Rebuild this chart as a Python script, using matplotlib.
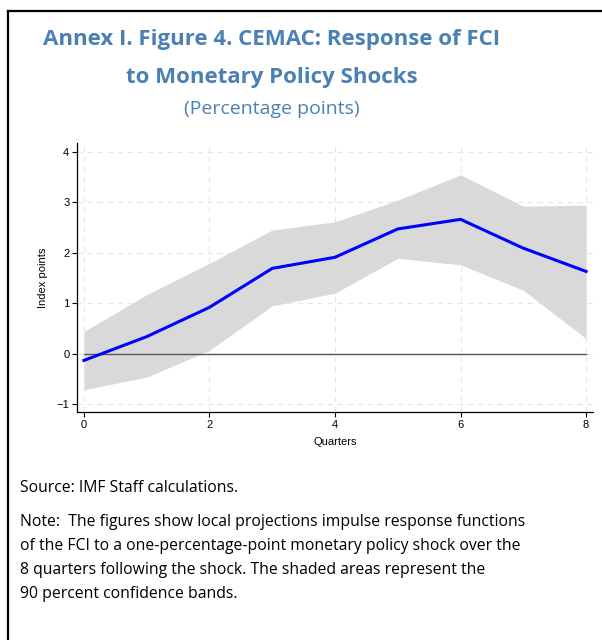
import numpy as np
import matplotlib
matplotlib.use("Agg")
import matplotlib.pyplot as plt
from matplotlib.lines import Line2D

# Respuesta del FCI a choques de politica monetaria
quarters = [0, 1, 2, 3, 4, 5, 6, 7, 8]
irf = [-0.13, 0.34, 0.92, 1.69, 1.91, 2.47, 2.66, 2.09, 1.63]
upper = [0.44, 1.17, 1.79, 2.45, 2.61, 3.04, 3.54, 2.92, 2.94]
lower = [-0.71, -0.46, 0.07, 0.95, 1.20, 1.89, 1.76, 1.26, 0.30]

x_ticks = [0, 2, 4, 6, 8]
y_ticks = [-1, 0, 1, 2, 3, 4]

title_color = "#4a80b3"
txt_font = ["Open Sans", "DejaVu Sans"]

fig = plt.figure(figsize=(6.02, 6.40), dpi=100)

# Marco superior e izquierdo
fig.add_artist(Line2D([8 / 602, 1], [1 - 10.5 / 640, 1 - 10.5 / 640],
                      color="black", lw=1.6, transform=fig.transFigure))
fig.add_artist(Line2D([8 / 602, 8 / 602], [0, 1 - 10.5 / 640],
                      color="black", lw=1.6, transform=fig.transFigure))

cx = 272 / 602
fig.text(cx, 1 - 39 / 640, "Annex I. Figure 4. CEMAC: Response of FCI",
         ha="center", va="center", fontsize=16, fontweight="bold",
         color=title_color, family=txt_font)
fig.text(cx, 1 - 78 / 640, "to Monetary Policy Shocks",
         ha="center", va="center", fontsize=16, fontweight="bold",
         color=title_color, family=txt_font)
fig.text(cx, 1 - 109 / 640, "(Percentage points)",
         ha="center", va="center", fontsize=14, color=title_color,
         family=txt_font)

ax = fig.add_axes([77 / 602, 1 - 412 / 640, (593 - 77) / 602, (412 - 143) / 640])

ax.fill_between(quarters, lower, upper, color="#d9d9d9", lw=0, zorder=2)
ax.plot([quarters[0], quarters[-1]], [0, 0], color="#555555", lw=1.0, zorder=3)
ax.plot(quarters, irf, color="#0000ff", lw=2.2, zorder=4)

ax.set_xlim(-0.11, 8.11)
ax.set_ylim(-1.15, 4.17)
ax.set_xticks(x_ticks)
ax.set_yticks(y_ticks)
ax.grid(True, color="#e6e6e6", ls=(0, (5, 4)), lw=0.8, zorder=0)
ax.set_axisbelow(True)

for s in ["top", "right"]:
    ax.spines[s].set_visible(False)
for s in ["left", "bottom"]:
    ax.spines[s].set_linewidth(0.9)

ax.tick_params(axis="both", direction="out", length=3.5, width=0.8,
               labelsize=8, pad=2)
for lab in ax.get_xticklabels() + ax.get_yticklabels():
    lab.set_family("Liberation Sans")

ax.set_xlabel("Quarters", fontsize=8, family="Liberation Sans", labelpad=5)
ax.set_ylabel("Index points", fontsize=8, family="Liberation Sans", labelpad=6)

fig.text(20 / 602, 1 - 488 / 640, "Source: IMF Staff calculations.",
         ha="left", va="center", fontsize=11.3, family=txt_font)

note = ("Note:  The figures show local projections impulse response functions\n"
        "of the FCI to a one-percentage-point monetary policy shock over the\n"
        "8 quarters following the shock. The shaded areas represent the\n"
        "90 percent confidence bands.")
fig.text(20 / 602, 1 - 514 / 640, note, ha="left", va="top", fontsize=11.3,
         family=txt_font, linespacing=1.68)

fig.savefig("out.png", dpi=100)
